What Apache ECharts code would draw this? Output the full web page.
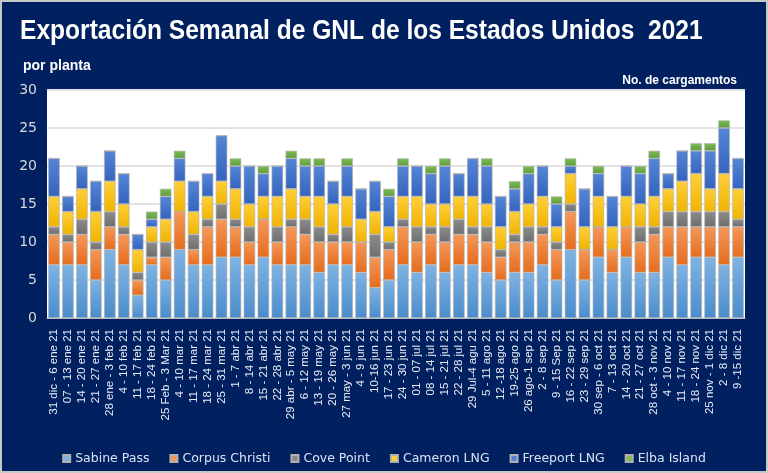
<!DOCTYPE html>
<html>
<head>
<meta charset="utf-8">
<script src="https://cdn.jsdelivr.net/npm/echarts@6/dist/echarts.min.js"></script>
<style>
  html, body { margin: 0; padding: 0; background: #c8c8c8; }
  #chart { position: absolute; left: 2px; top: 2px; width: 764px; height: 469px; }
</style>
</head>
<body>
<div id="chart"></div>
<script>
// semanas
const weeks = [
  '31 dic - 6 ene 21', '07 - 13 ene 21', '14 - 20 ene 21', '21 - 27 ene 21', '28 ene - 3 feb 21',
  '4 - 10 feb 21', '11 - 17 feb 21', '18 - 24 feb 21', '25 Feb - 3 Mar 21', '4 - 10 mar 21',
  '11 - 17 mar 21', '18 - 24 mar 21', '25 - 31 mar 21', '1 - 7 abr 21', '8 - 14 abr 21',
  '15 - 21 abr 21', '22 - 28 abr 21', '29 abr - 5 may 21', '6 - 12 may 21', '13 - 19 may 21',
  '20 - 26 may 21', '27 may - 3 jun 21', '4 - 9 jun 21', '10-16 jun 21', '17 - 23 jun 21',
  '24 - 30 jun 21', '01 - 07 jul 21', '08 - 14 jul 21', '15 - 21 jul 21', '22 - 28 jul 21',
  '29 Jul-4 agu 21', '5 - 11 ago 21', '12 -18 ago 21', '19-25 ago 21', '26 ago-1 sep 21',
  '2 - 8 sep 21', '9 - 15 Sep 21', '16 - 22 sep 21', '23 - 29 sep 21', '30 sep - 6 oct 21',
  '7 - 13 oct 21', '14 - 20 oct 21', '21 - 27 oct 21', '28 oct - 3 nov 21', '4 - 10 nov 21',
  '11 - 17 nov 21', '18 - 24 nov 21', '25 nov - 1 dic 21', '2 - 8 dic 21', '9 -15 dic 21'
];

// cargamentos por planta
const sabinePass    = [7,7,7,5,9,7,3,7,5,9, 7,7,8,8,7,8,7,7,7,6, 7,7,6,4,5,7,6,7,6,7, 7,6,5,6,6,7,5,9,5,8, 6,8,6,6,8,7,8,8,7,8];
const corpusChristi = [4,3,4,4,3,4,2,1,3,5, 2,5,5,4,3,5,3,5,4,4, 3,3,4,4,4,5,4,4,4,4, 4,4,3,4,4,4,4,5,4,4, 3,4,4,5,4,5,4,4,5,4];
const covePoint     = [1,1,2,1,2,1,1,2,2,0, 2,1,2,1,2,0,2,1,2,2, 1,2,0,3,1,1,2,1,2,2, 1,2,1,1,2,1,1,1,0,0, 0,0,2,1,2,2,2,2,2,1];
const cameronLNG    = [4,3,4,4,4,3,3,2,3,4, 3,3,3,4,3,3,4,4,3,4, 4,4,3,3,2,3,4,3,3,3, 4,3,3,3,3,4,2,4,3,4, 3,4,3,4,3,4,5,3,5,4];
const freeportLNG   = [5,2,3,4,4,4,2,1,3,3, 4,3,6,3,5,3,4,4,4,4, 3,4,4,4,4,4,4,4,5,3, 5,5,4,3,4,4,3,1,5,3, 4,4,4,5,2,4,3,5,6,4];
const elbaIsland    = [0,0,0,0,0,0,0,1,1,1, 0,0,0,1,0,1,0,1,1,1, 0,1,0,0,1,1,0,1,1,0, 0,1,0,1,1,0,1,1,0,1, 0,0,1,1,0,0,1,1,1,0];

const yTicks = [0, 5, 10, 15, 20, 25, 30];

const plants = [
  { name: 'Sabine Pass',    data: sabinePass,    top: '#7fb3e3', bottom: '#4a8ccc' },
  { name: 'Corpus Christi', data: corpusChristi, top: '#f4985a', bottom: '#e66c1c' },
  { name: 'Cove Point',     data: covePoint,     top: '#8c8c8c', bottom: '#6e6e6e' },
  { name: 'Cameron LNG',    data: cameronLNG,    top: '#ffcf3a', bottom: '#f0b400' },
  { name: 'Freeport LNG',   data: freeportLNG,   top: '#5585d6', bottom: '#3464bd' },
  { name: 'Elba Island',    data: elbaIsland,    top: '#7cbd55', bottom: '#5f9c3c' }
];

const chart = echarts.init(document.getElementById('chart'));

const option = {
  backgroundColor: '#002060',
  animation: false,
  // titulo un poco comprimido para parecerse a la fuente estrecha del original
  graphic: [
    {
      type: 'text',
      left: 18, top: 16,
      scaleX: 0.91,
      style: {
        text: 'Exportación Semanal de GNL de los Estados Unidos  2021',
        fill: '#ffffff',
        font: 'bold 27px "Liberation Sans", Arial, sans-serif'
      }
    }
  ],
  title: [
    {
      text: 'por planta',
      left: 16, top: 52,
      textStyle: { color: '#ffffff', fontSize: 14, fontWeight: 'bold', fontFamily: 'Liberation Sans, Arial, sans-serif' }
    },
    {
      text: 'No. de cargamentos',
      right: 24, top: 68,
      textStyle: { color: '#ffffff', fontSize: 12, fontWeight: 'bold', fontFamily: 'Liberation Sans, Arial, sans-serif' }
    }
  ],
  legend: {
    bottom: 1,
    left: 'center',
    itemWidth: 7, itemHeight: 7, itemGap: 20,
    icon: 'rect',
    textStyle: { color: '#d9e2f3', fontSize: 12.5, fontFamily: 'DejaVu Sans, sans-serif' },
    data: plants.map(p => ({ name: p.name, itemStyle: { color: p.top } }))
  },
  grid: { left: 45, right: 21, top: 88, bottom: 153, backgroundColor: '#ffffff', show: true, borderWidth: 0 },
  xAxis: {
    type: 'category',
    data: weeks,
    axisTick: { show: false },
    axisLine: { lineStyle: { color: '#bfbfbf' } },
    axisLabel: { rotate: 90, interval: 0, color: '#e8ecf5', fontSize: 11.5, fontFamily: 'Liberation Sans, Arial, sans-serif', margin: 11 }
  },
  yAxis: {
    type: 'value',
    min: yTicks[0], max: yTicks[yTicks.length - 1], interval: 5,
    axisLabel: { color: '#d9d9d9', fontSize: 14, margin: 10, fontFamily: 'DejaVu Sans, sans-serif' },
    splitLine: { lineStyle: { color: '#e3e3e3', width: 2 } },
    axisLine: { show: false }
  },
  series: plants.map(p => ({
    name: p.name,
    type: 'bar',
    stack: 'total',
    barCategoryGap: '18%',
    data: p.data,
    itemStyle: {
      color: new echarts.graphic.LinearGradient(0, 0, 0, 1, [
        { offset: 0, color: p.top },
        { offset: 1, color: p.bottom }
      ]),
      borderColor: '#b0b0b0',
      borderWidth: 0.6
    }
  }))
};

chart.setOption(option);
</script>
</body>
</html>
